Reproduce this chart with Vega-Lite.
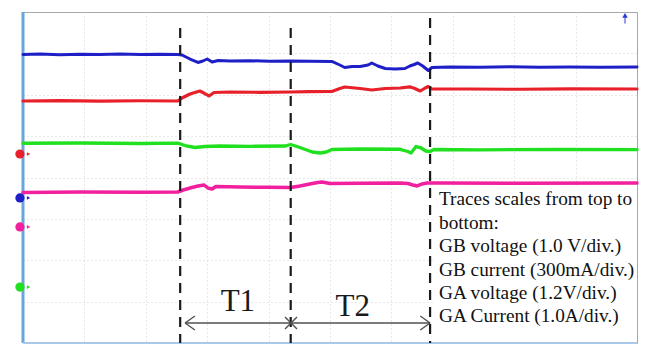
{
  "$schema": "https://vega.github.io/schema/vega-lite/v6.json",
  "width": 614,
  "height": 331,
  "autosize": "none",
  "padding": {"left": 23, "top": 12, "right": 12, "bottom": 2},
  "background": "white",
  "config": {
    "view": {"stroke": "#a8a8a8", "strokeWidth": 1},
    "axis": {"domain": false, "labels": false, "ticks": false, "title": null, "grid": true, "gridColor": "#d0d0d0", "gridDash": [1, 3], "gridWidth": 1}
  },
  "datasets": {
    "traces": [
      {"s": "blue", "x": 0, "y": 6.973}, {"s": "blue", "x": 0.28, "y": 6.985}, {"s": "blue", "x": 0.6, "y": 6.965}, {"s": "blue", "x": 0.93, "y": 6.98}, {"s": "blue", "x": 1.25, "y": 6.97}, {"s": "blue", "x": 1.58, "y": 6.985}, {"s": "blue", "x": 1.91, "y": 6.973}, {"s": "blue", "x": 2.23, "y": 6.98}, {"s": "blue", "x": 2.52, "y": 6.975}, {"s": "blue", "x": 2.59, "y": 6.961}, {"s": "blue", "x": 2.72, "y": 6.864}, {"s": "blue", "x": 2.85, "y": 6.78}, {"s": "blue", "x": 2.93, "y": 6.816}, {"s": "blue", "x": 3.0, "y": 6.864}, {"s": "blue", "x": 3.08, "y": 6.792}, {"s": "blue", "x": 3.18, "y": 6.828}, {"s": "blue", "x": 3.37, "y": 6.816}, {"s": "blue", "x": 3.7, "y": 6.821}, {"s": "blue", "x": 4.02, "y": 6.811}, {"s": "blue", "x": 4.36, "y": 6.816}, {"s": "blue", "x": 4.67, "y": 6.809}, {"s": "blue", "x": 5.03, "y": 6.804}, {"s": "blue", "x": 5.16, "y": 6.719}, {"s": "blue", "x": 5.24, "y": 6.659}, {"s": "blue", "x": 5.36, "y": 6.683}, {"s": "blue", "x": 5.49, "y": 6.683}, {"s": "blue", "x": 5.62, "y": 6.719}, {"s": "blue", "x": 5.68, "y": 6.767}, {"s": "blue", "x": 5.78, "y": 6.695}, {"s": "blue", "x": 5.9, "y": 6.635}, {"s": "blue", "x": 6.06, "y": 6.622}, {"s": "blue", "x": 6.22, "y": 6.635}, {"s": "blue", "x": 6.3, "y": 6.695}, {"s": "blue", "x": 6.37, "y": 6.731}, {"s": "blue", "x": 6.43, "y": 6.767}, {"s": "blue", "x": 6.51, "y": 6.695}, {"s": "blue", "x": 6.6, "y": 6.586}, {"s": "blue", "x": 6.66, "y": 6.659}, {"s": "blue", "x": 6.95, "y": 6.671}, {"s": "blue", "x": 7.44, "y": 6.664}, {"s": "blue", "x": 7.93, "y": 6.676}, {"s": "blue", "x": 8.42, "y": 6.667}, {"s": "blue", "x": 8.91, "y": 6.671}, {"s": "blue", "x": 9.4, "y": 6.664}, {"s": "blue", "x": 10, "y": 6.671},
      {"s": "red", "x": 0, "y": 5.849}, {"s": "red", "x": 0.6, "y": 5.859}, {"s": "red", "x": 1.25, "y": 5.844}, {"s": "red", "x": 1.91, "y": 5.854}, {"s": "red", "x": 2.52, "y": 5.849}, {"s": "red", "x": 2.59, "y": 5.921}, {"s": "red", "x": 2.72, "y": 6.018}, {"s": "red", "x": 2.88, "y": 6.091}, {"s": "red", "x": 2.96, "y": 6.03}, {"s": "red", "x": 3.03, "y": 5.97}, {"s": "red", "x": 3.11, "y": 6.054}, {"s": "red", "x": 3.37, "y": 6.066}, {"s": "red", "x": 3.86, "y": 6.059}, {"s": "red", "x": 4.36, "y": 6.066}, {"s": "red", "x": 4.67, "y": 6.076}, {"s": "red", "x": 5.03, "y": 6.079}, {"s": "red", "x": 5.16, "y": 6.151}, {"s": "red", "x": 5.24, "y": 6.187}, {"s": "red", "x": 5.49, "y": 6.151}, {"s": "red", "x": 5.68, "y": 6.115}, {"s": "red", "x": 5.9, "y": 6.151}, {"s": "red", "x": 6.14, "y": 6.163}, {"s": "red", "x": 6.3, "y": 6.192}, {"s": "red", "x": 6.38, "y": 6.151}, {"s": "red", "x": 6.47, "y": 6.091}, {"s": "red", "x": 6.55, "y": 6.163}, {"s": "red", "x": 6.6, "y": 6.199}, {"s": "red", "x": 6.66, "y": 6.139}, {"s": "red", "x": 7.28, "y": 6.139}, {"s": "red", "x": 8.09, "y": 6.132}, {"s": "red", "x": 8.91, "y": 6.144}, {"s": "red", "x": 10, "y": 6.139},
      {"s": "green", "x": 0, "y": 4.827}, {"s": "green", "x": 0.93, "y": 4.834}, {"s": "green", "x": 1.91, "y": 4.822}, {"s": "green", "x": 2.52, "y": 4.829}, {"s": "green", "x": 2.64, "y": 4.773}, {"s": "green", "x": 2.8, "y": 4.725}, {"s": "green", "x": 2.96, "y": 4.749}, {"s": "green", "x": 3.21, "y": 4.761}, {"s": "green", "x": 3.7, "y": 4.754}, {"s": "green", "x": 4.27, "y": 4.761}, {"s": "green", "x": 4.36, "y": 4.798}, {"s": "green", "x": 4.51, "y": 4.725}, {"s": "green", "x": 4.71, "y": 4.616}, {"s": "green", "x": 4.84, "y": 4.592}, {"s": "green", "x": 4.94, "y": 4.616}, {"s": "green", "x": 5.03, "y": 4.677}, {"s": "green", "x": 5.49, "y": 4.689}, {"s": "green", "x": 6.14, "y": 4.682}, {"s": "green", "x": 6.27, "y": 4.628}, {"s": "green", "x": 6.32, "y": 4.592}, {"s": "green", "x": 6.4, "y": 4.749}, {"s": "green", "x": 6.47, "y": 4.725}, {"s": "green", "x": 6.56, "y": 4.64}, {"s": "green", "x": 6.63, "y": 4.628}, {"s": "green", "x": 6.69, "y": 4.677}, {"s": "green", "x": 7.44, "y": 4.669}, {"s": "green", "x": 8.75, "y": 4.677}, {"s": "green", "x": 10, "y": 4.672},
      {"s": "magenta", "x": 0, "y": 3.637}, {"s": "magenta", "x": 0.93, "y": 3.65}, {"s": "magenta", "x": 1.91, "y": 3.642}, {"s": "magenta", "x": 2.52, "y": 3.65}, {"s": "magenta", "x": 2.61, "y": 3.698}, {"s": "magenta", "x": 2.75, "y": 3.758}, {"s": "magenta", "x": 2.85, "y": 3.795}, {"s": "magenta", "x": 2.95, "y": 3.819}, {"s": "magenta", "x": 3.01, "y": 3.746}, {"s": "magenta", "x": 3.08, "y": 3.722}, {"s": "magenta", "x": 3.14, "y": 3.782}, {"s": "magenta", "x": 3.53, "y": 3.77}, {"s": "magenta", "x": 4.02, "y": 3.763}, {"s": "magenta", "x": 4.36, "y": 3.758}, {"s": "magenta", "x": 4.51, "y": 3.795}, {"s": "magenta", "x": 4.67, "y": 3.843}, {"s": "magenta", "x": 4.8, "y": 3.879}, {"s": "magenta", "x": 4.87, "y": 3.891}, {"s": "magenta", "x": 5.0, "y": 3.855}, {"s": "magenta", "x": 5.49, "y": 3.86}, {"s": "magenta", "x": 6.14, "y": 3.867}, {"s": "magenta", "x": 6.27, "y": 3.855}, {"s": "magenta", "x": 6.35, "y": 3.819}, {"s": "magenta", "x": 6.42, "y": 3.795}, {"s": "magenta", "x": 6.5, "y": 3.843}, {"s": "magenta", "x": 6.58, "y": 3.867}, {"s": "magenta", "x": 6.79, "y": 3.867}, {"s": "magenta", "x": 8.09, "y": 3.862}, {"s": "magenta", "x": 10, "y": 3.867}
    ],
    "cursors": [
      {"x": 2.56, "y": 7.613, "y2": 0},
      {"x": 4.36, "y": 7.613, "y2": 0},
      {"x": 6.63, "y": 7.855, "y2": 0}
    ],
    "segments": [
      {"x": 2.64, "y": 0.483, "x2": 6.63, "y2": 0.483},
      {"x": 2.64, "y": 0.483, "x2": 2.8, "y2": 0.653},
      {"x": 2.64, "y": 0.483, "x2": 2.8, "y2": 0.314},
      {"x": 6.63, "y": 0.483, "x2": 6.47, "y2": 0.653},
      {"x": 6.63, "y": 0.483, "x2": 6.47, "y2": 0.314},
      {"x": 4.267, "y": 0.628, "x2": 4.463, "y2": 0.338},
      {"x": 4.267, "y": 0.338, "x2": 4.463, "y2": 0.628}
    ],
    "periods": [
      {"label": "T1", "x": 3.5, "y": 0.99},
      {"label": "T2", "x": 5.37, "y": 0.87}
    ],
    "notes": [
      {"text": "Traces scales from top to", "x": 6.775, "y": 3.48},
      {"text": "bottom:", "x": 6.775, "y": 2.9},
      {"text": "GB voltage (1.0 V/div.)", "x": 6.775, "y": 2.344},
      {"text": "GB current (300mA/div.)", "x": 6.775, "y": 1.764},
      {"text": "GA voltage (1.2V/div.)", "x": 6.775, "y": 1.208},
      {"text": "GA Current (1.0A/div.)", "x": 6.775, "y": 0.653}
    ],
    "markers": [
      {"s": "red", "x": -0.05, "y": 4.568},
      {"s": "blue", "x": -0.05, "y": 3.505},
      {"s": "magenta", "x": -0.05, "y": 2.804},
      {"s": "green", "x": -0.05, "y": 1.353}
    ],
    "tips": [
      {"s": "red", "x": 0.09, "y": 4.568},
      {"s": "blue", "x": 0.09, "y": 3.505},
      {"s": "magenta", "x": 0.09, "y": 2.804},
      {"s": "green", "x": 0.09, "y": 1.353}
    ]
  },
  "layer": [
    {
      "data": {"values": [{"x": 6.694, "x2": 10, "y": 3.795, "y2": 0.03}]},
      "mark": {"type": "rect", "color": "white"},
      "encoding": {
        "x": {"field": "x", "type": "quantitative", "scale": {"domain": [0, 10], "nice": false, "zero": false}, "axis": {"values": [1, 2, 3, 4, 5, 6, 7, 8, 9]}},
        "x2": {"field": "x2"},
        "y": {"field": "y", "type": "quantitative", "scale": {"domain": [0, 8], "nice": false, "zero": false}, "axis": {"values": [1, 2, 3, 4, 5, 6, 7]}},
        "y2": {"field": "y2"}
      }
    },
    {
      "data": {"values": [{"x": 0, "y": 0, "y2": 8}]},
      "mark": {"type": "rule", "color": "#6aa6dc", "strokeWidth": 3, "clip": false},
      "encoding": {
        "x": {"field": "x", "type": "quantitative"},
        "y": {"field": "y", "type": "quantitative"},
        "y2": {"field": "y2"}
      }
    },
    {
      "data": {"values": [{"x": 0, "x2": 10, "y": 0}]},
      "mark": {"type": "rule", "color": "#a9c8ea", "strokeWidth": 2, "clip": false},
      "encoding": {
        "x": {"field": "x", "type": "quantitative"},
        "x2": {"field": "x2"},
        "y": {"field": "y", "type": "quantitative"}
      }
    },
    {
      "data": {"name": "traces"},
      "mark": {"type": "line", "strokeJoin": "round", "strokeCap": "round"},
      "encoding": {
        "x": {"field": "x", "type": "quantitative"},
        "y": {"field": "y", "type": "quantitative"},
        "detail": {"field": "s"},
        "color": {"field": "s", "type": "nominal", "scale": {"domain": ["blue", "red", "green", "magenta"], "range": ["#1f1fc8", "#e8202a", "#20e020", "#f0209f"]}, "legend": null},
        "strokeWidth": {"field": "s", "type": "nominal", "scale": {"domain": ["blue", "red", "green", "magenta"], "range": [3, 3.5, 4.5, 3.5]}, "legend": null}
      }
    },
    {
      "data": {"name": "cursors"},
      "mark": {"type": "rule", "color": "#1a1a1a", "strokeWidth": 2.2, "strokeDash": [10, 7]},
      "encoding": {
        "x": {"field": "x", "type": "quantitative"},
        "y": {"field": "y", "type": "quantitative"},
        "y2": {"field": "y2"}
      }
    },
    {
      "data": {"name": "segments"},
      "mark": {"type": "rule", "color": "#505050", "strokeWidth": 1.4},
      "encoding": {
        "x": {"field": "x", "type": "quantitative"},
        "y": {"field": "y", "type": "quantitative"},
        "x2": {"field": "x2"},
        "y2": {"field": "y2"}
      }
    },
    {
      "data": {"name": "periods"},
      "mark": {"type": "text", "font": "Liberation Serif", "fontSize": 31, "color": "#1a1a1a", "align": "center", "baseline": "middle"},
      "encoding": {
        "x": {"field": "x", "type": "quantitative"},
        "y": {"field": "y", "type": "quantitative"},
        "text": {"field": "label"}
      }
    },
    {
      "data": {"name": "notes"},
      "mark": {"type": "text", "font": "Liberation Serif", "fontSize": 19.3, "color": "#111111", "align": "left", "baseline": "middle"},
      "encoding": {
        "x": {"field": "x", "type": "quantitative"},
        "y": {"field": "y", "type": "quantitative"},
        "text": {"field": "text"}
      }
    },
    {
      "data": {"name": "tips"},
      "mark": {"type": "point", "shape": "triangle-right", "filled": true, "size": 14, "opacity": 1, "clip": false},
      "encoding": {
        "x": {"field": "x", "type": "quantitative"},
        "y": {"field": "y", "type": "quantitative"},
        "color": {"field": "s", "type": "nominal", "scale": {"domain": ["blue", "red", "green", "magenta"], "range": ["#1f1fc8", "#e8202a", "#20e020", "#f0209f"]}, "legend": null}
      }
    },
    {
      "data": {"name": "markers"},
      "mark": {"type": "point", "shape": "circle", "filled": true, "size": 85, "opacity": 1, "clip": false},
      "encoding": {
        "x": {"field": "x", "type": "quantitative"},
        "y": {"field": "y", "type": "quantitative"},
        "color": {"field": "s", "type": "nominal", "scale": {"domain": ["blue", "red", "green", "magenta"], "range": ["#1f1fc8", "#e8202a", "#20e020", "#d040c8"]}, "legend": null}
      }
    },
    {
      "data": {"values": [{"x": 9.805, "y": 7.92}]},
      "mark": {"type": "point", "shape": "triangle-up", "filled": true, "size": 30, "color": "#2a3ad0", "opacity": 1},
      "encoding": {
        "x": {"field": "x", "type": "quantitative"},
        "y": {"field": "y", "type": "quantitative"}
      }
    },
    {
      "data": {"values": [{"x": 9.805, "y": 7.92, "y2": 7.72}]},
      "mark": {"type": "rule", "color": "#2a3ad0", "strokeWidth": 1},
      "encoding": {
        "x": {"field": "x", "type": "quantitative"},
        "y": {"field": "y", "type": "quantitative"},
        "y2": {"field": "y2"}
      }
    }
  ]
}
